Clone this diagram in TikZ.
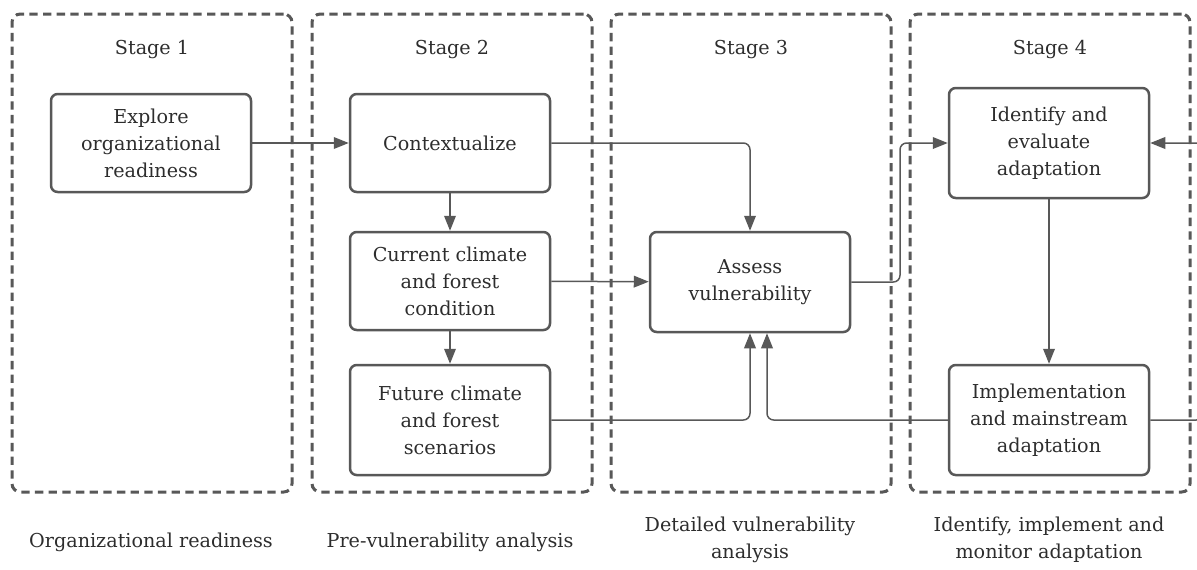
\documentclass[tikz,border=0pt]{standalone}
\usepackage{fontspec}
\setmainfont{DejaVu Serif}
\usetikzlibrary{arrows.meta,positioning}
\definecolor{greyish}{RGB}{88,88,88}
\definecolor{inkish}{RGB}{45,45,45}
\tikzset{
  stage_box/.style = {draw=greyish, line width=1.8pt, dash pattern=on 5pt off 3.2pt,
    rounded corners=5pt, minimum width=280*0.6pt, minimum height=478*0.6pt, inner sep=0pt},
  stage_title/.style = {text=inkish, font=\fontsize{11.5}{16.2}\selectfont},
  stage_note/.style = {text=inkish, align=center, font=\fontsize{11.5}{16.2}\selectfont},
  step_n/.style = {draw=greyish, line width=1.5pt, rounded corners=4pt, align=center,
    text=inkish, font=\fontsize{11.5}{16.2}\selectfont, inner sep=2pt,
    minimum width=200*0.6pt, minimum height=98*0.6pt},
  step_t/.style = {step_n, minimum height=110*0.6pt},
  flow/.style = {draw=greyish, line width=0.9pt, rounded corners=4pt,
    -{Triangle[length=9pt,width=7pt]}},
}
\begin{document}
\begin{tikzpicture}[x=0.6pt, y=-0.6pt]
\useasboundingbox (0,0) rectangle (1197,569);
% stages
\node [stage_box] (st1) at (152,253) {};
\node [stage_box] (st2) at (452,253) {};
\node [stage_box] (st3) at (751,253) {};
\node [stage_box] (st4) at (1050,253) {};
\foreach \s/\t in {st1/Stage 1, st2/Stage 2, st3/Stage 3, st4/Stage 4}
  \node [stage_title, below=13pt of \s.north] {\t};
% steps
\node [step_n] (exp) at (151,143) {Explore\\organizational\\readiness};
\node [step_n] (ctx) at (450,143) {Contextualize};
\node [step_n] (cur) at (450,281) {Current climate\\and forest\\condition};
\node [step_t] (fut) at (450,420) {Future climate\\and forest\\scenarios};
\node [step_n, minimum height=100*0.6pt] (asv) at (750,282) {Assess\\vulnerability};
\node [step_t] (idf) at (1049,143) {Identify and\\evaluate\\adaptation};
\node [step_t] (imp) at (1049,420) {Implementation\\and mainstream\\adaptation};
% notes
\node [stage_note] (n1) at (151,542) {Organizational readiness};
\node [stage_note] (n2) at (450,542) {Pre-vulnerability analysis};
\node [stage_note] (n3) at (750,540) {Detailed vulnerability\\analysis};
\node [stage_note] (n4) at (1049,540) {Identify, implement and\\monitor adaptation};
% flows
\coordinate (bend) at (900,200);
\coordinate (loop) at (1203,300);
\draw [flow] (exp) -- (ctx);
\draw [flow] (ctx) -- (cur);
\draw [flow] (cur) -- (fut);
\draw [flow] (cur) -- (asv);
\draw [flow] (ctx.east) -| (asv.north);
\draw [flow] (fut.east) -| (asv.south);
\draw [flow] (imp.west) -| ([xshift=17*0.6pt]asv.south);
\draw [flow] (asv.east) -| (bend) |- (idf.west);
\draw [flow] (idf) -- (imp);
\draw [flow] (imp.east) -| (loop) |- (idf.east);
\end{tikzpicture}
\end{document}
